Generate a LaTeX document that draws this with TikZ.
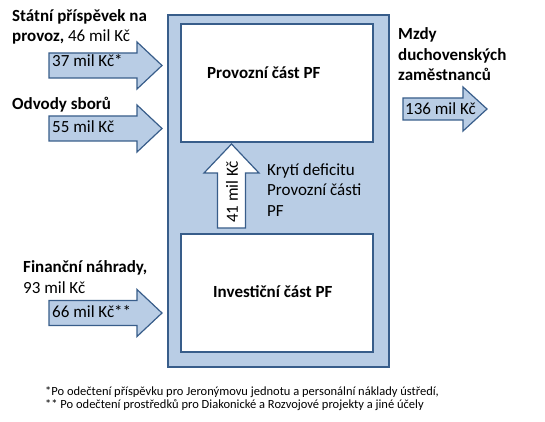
\documentclass[tikz,border=0pt]{standalone}
\usepackage{fontspec}
\setmainfont{Carlito}
\usetikzlibrary{positioning}
\definecolor{fundfill}{HTML}{B9CDE5}
\definecolor{fundline}{HTML}{385D8A}

\begin{document}
\begin{tikzpicture}[x=1pt, y=-1pt,
	every node/.style={inner sep=0pt, font=\fontsize{17}{20.5}\selectfont},
	box/.style={draw=fundline, line width=2pt},
	blockarrow/.style={draw=fundline, fill=fundfill, line width=1.2pt, line join=miter},
	label/.style={anchor=base west, align=left},
	note/.style={anchor=base west, font=\fontsize{12.5}{13.5}\selectfont}]

	\useasboundingbox (0,0) rectangle (545,422);

	\node (fund) [box, line width=2.5pt, fill=fundfill, minimum width=221pt, minimum height=352pt] at (278.5,191) {};
	\node (provozni) [box, fill=white, minimum width=192pt, minimum height=118pt] at (277,83) {};
	\node (investicni) [box, fill=white, minimum width=192pt, minimum height=118pt] at (277,293) {};
	\node (provoznitext) [label] at (207,79) {\textbf{Provozní část PF}};
	\node (investicnitext) [label] at (213,297) {\textbf{Investiční část PF}};

	\foreach \y/\b/\name/\val in {65.5/67/statni/37 mil Kč*, 128.5/133/odvody/55 mil Kč, 313/317/nahrady/66 mil Kč**} {
		\draw [blockarrow] (49,\y-12.5) -- (137,\y-12.5) -- (137,\y-23.5) -- (162,\y) -- (137,\y+23.5) -- (137,\y+12.5) -- (49,\y+12.5) -- cycle;
		\node (\name val) [label] at (52,\b) {\val};
	}

	\draw [blockarrow] (403,98) -- (463,98) -- (463,87) -- (487,109) -- (463,131) -- (463,120) -- (403,120) -- cycle;
	\node (mzdyval) [label] at (405,115) {136 mil Kč};

	\draw [blockarrow, fill=white] (217.5,228) -- (217.5,173) -- (204,173) -- (231.5,144) -- (259,173) -- (245.5,173) -- (245.5,228) -- cycle;
	\node (kryti) [rotate=90] at (232,192) {41 mil Kč};
	\node (krytitext) [label] at (267,216) {Krytí deficitu\\Provozní části\\PF};

	\node (statni) [label] at (12,42) {\textbf{Státní příspěvek na}\\\textbf{provoz,} 46 mil Kč};
	\node (odvody) [label] at (12,110) {\textbf{Odvody sborů}};
	\node (nahrady) [label] at (23,293) {\textbf{Finanční náhrady,}\\93 mil Kč};
	\node (mzdy) [label] at (398,81) {\textbf{Mzdy}\\\textbf{duchovenských}\\\textbf{zaměstnanců}};

	\node (note1) [note] at (45,395) {*Po odečtení příspěvku pro Jeronýmovu jednotu a personální náklady ústředí,};
	\node (note2) [note, below=13.5pt of note1.base west, anchor=base west] {** Po odečtení prostředků pro Diakonické a Rozvojové projekty a jiné účely};
\end{tikzpicture}
\end{document}
